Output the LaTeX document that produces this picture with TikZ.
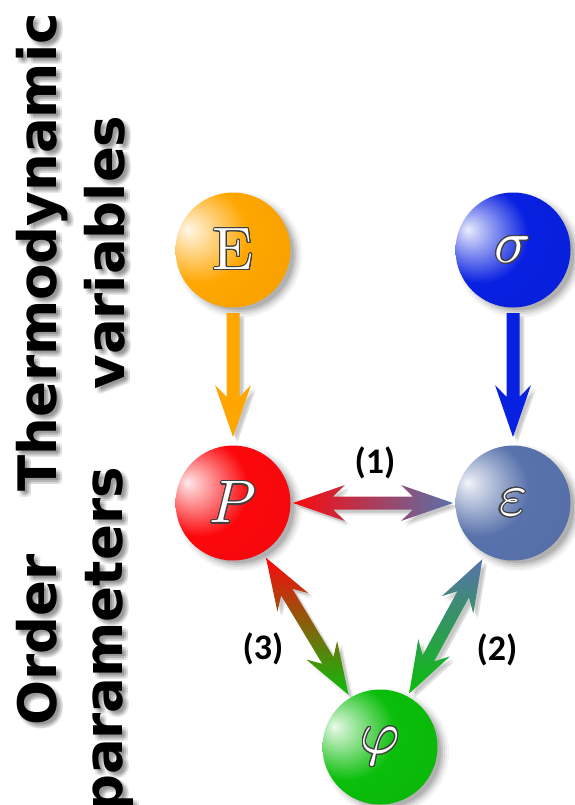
\documentclass[tikz,border=0pt]{standalone}
\usepackage{fontspec}
\usepackage{contour}
\usetikzlibrary{calc,backgrounds}
\newfontfamily\headfont{DejaVu Sans}
\newfontfamily\numfont{Carlito}
\contourlength{1.1pt}
\contournumber{24}

\definecolor{cOrange}{RGB}{255,166,0}
\definecolor{cBlue}{RGB}{8,32,225}
\definecolor{cRed}{RGB}{252,8,12}
\definecolor{cSteel}{RGB}{88,114,172}
\definecolor{cGreen}{RGB}{10,190,10}

\newcommand{\ballshade}[2]{\pgfdeclareradialshading{#1}{\pgfpoint{-20bp}{9bp}}{color(0bp)=(#2!8!white); color(3bp)=(#2!22!white); color(21bp)=(#2); color(48bp)=(#2!95!black); color(75bp)=(#2!88!black)}}
\ballshade{shE}{cOrange}
\ballshade{shS}{cBlue}
\ballshade{shP}{cRed}
\ballshade{shEps}{cSteel}
\ballshade{shPhi}{cGreen}

\newcommand{\aHB}{52pt}
\newcommand{\aHS}{40pt}
\newcommand{\aBW}{18pt}
\newcommand{\aSW}{6.5pt}

\newcommand{\dblArrow}[3]{\path[#1] (#2)
 -- ($(#2)!\aHB!(#3)!\aBW!90:(#3)$)
 -- ($(#2)!\aHS!(#3)!\aSW!90:(#3)$)
 -- ($(#3)!\aHS!(#2)!\aSW!-90:(#2)$)
 -- ($(#3)!\aHB!(#2)!\aBW!-90:(#2)$)
 -- (#3)
 -- ($(#3)!\aHB!(#2)!\aBW!90:(#2)$)
 -- ($(#3)!\aHS!(#2)!\aSW!90:(#2)$)
 -- ($(#2)!\aHS!(#3)!\aSW!-90:(#3)$)
 -- ($(#2)!\aHB!(#3)!\aBW!-90:(#3)$)
 -- cycle;}

\newcommand{\oneArrow}[3]{\path[#1]
 ($(#2)!\aSW!90:(#3)$)
 -- ($(#3)!\aHS!(#2)!\aSW!-90:(#2)$)
 -- ($(#3)!\aHB!(#2)!\aBW!-90:(#2)$)
 -- (#3)
 -- ($(#3)!\aHB!(#2)!\aBW!90:(#2)$)
 -- ($(#3)!\aHS!(#2)!\aSW!90:(#2)$)
 -- ($(#2)!\aSW!-90:(#3)$)
 -- cycle;}

\newcommand{\bigsym}[1]{\contour{black!75}{\scalebox{6}{$#1$}}}

\tikzset{
  ball/.style={circle, minimum size=115pt, inner sep=0pt, shade, text=white},
  head/.style={anchor=base, rotate=90, inner sep=0pt,
    font=\headfont\bfseries\fontsize{53pt}{53pt}\selectfont},
  headshadow/.style={head, text=black, text opacity=0.055},
  lab/.style={inner sep=0pt, font=\numfont\bfseries\fontsize{36pt}{36pt}\selectfont},
}

\begin{document}
\begin{tikzpicture}[x=1pt,y=-1pt]
\useasboundingbox (0,0) rectangle (575,805);

% balls
\node[ball, shading=shE] (E) at (233,250) {\bigsym{\mathrm{E}}};
\node[ball, shading=shS] (S) at (513,250) {\bigsym{\sigma}};
\node[ball, shading=shP] (P) at (233,503) {\bigsym{P}};
\node[ball, shading=shEps] (eps) at (513,503) {\bigsym{\varepsilon}};
\node[ball, shading=shPhi] (phi) at (380,747) {\bigsym{\varphi}};

% arrow end points
\coordinate (eS) at ($(E)!63pt!(P)$);
\coordinate (eE) at ($(P)!66pt!(E)$);
\coordinate (sS) at ($(S)!63pt!(eps)$);
\coordinate (sE) at ($(eps)!66pt!(S)$);
\coordinate (oS) at ($(P)!60pt!(eps)$);
\coordinate (oE) at ($(eps)!60pt!(P)$);
\coordinate (tS) at ($(P)!64pt!(phi)$);
\coordinate (tE) at ($(phi)!61pt!(P)$);
\coordinate (wS) at ($(eps)!64pt!(phi)$);
\coordinate (wE) at ($(phi)!61pt!(eps)$);

% arrows
\oneArrow{fill=cOrange}{eS}{eE}
\oneArrow{fill=cBlue}{sS}{sE}
\dblArrow{left color=cRed, right color=cSteel}{oS}{oE}
\dblArrow{top color=cRed, bottom color=cGreen}{tS}{tE}
\dblArrow{top color=cSteel, bottom color=cGreen}{wS}{wE}

% labels
\node[lab] (l1) at (375,463) {(1)};
\node[lab] (l2) at (497,650) {(2)};
\node[lab] (l3) at (263,649) {(3)};

% headings
\node[head] (th) at (56,252.5) {Thermodynamic};
\node[head] (va) at (124,252.5) {variables};
\node[head] (or) at (56,640) {Order};
\node[head] (pa) at (122,640) {parameters};

\begin{pgfonlayer}{background}
  % ball shadows
  \foreach \n in {E,S,P,eps,phi}{
    \foreach \r/\o in {63/0.04,61/0.05,59/0.07,57/0.09,55/0.10}{
      \fill[black, opacity=\o] ($(\n)+(6,5)$) circle (\r pt);
    }
  }
  % arrow shadows
  \foreach \dx/\dy/\o in {3/3/0.10,5/4/0.08,4/6/0.06}{
    \begin{scope}[transform canvas={shift={(\dx,\dy)}}]
      \oneArrow{fill=black, opacity=\o}{eS}{eE}
      \oneArrow{fill=black, opacity=\o}{sS}{sE}
      \dblArrow{fill=black, opacity=\o}{oS}{oE}
      \dblArrow{fill=black, opacity=\o}{tS}{tE}
      \dblArrow{fill=black, opacity=\o}{wS}{wE}
    \end{scope}
  }
  % heading shadows
  \foreach \dx in {2,4,6}{
    \foreach \dy in {2,4,6}{
      \node[headshadow] (thsh\dx\dy) at ($(th.base)+(\dx,\dy)$) {Thermodynamic};
      \node[headshadow] (vash\dx\dy) at ($(va.base)+(\dx,\dy)$) {variables};
      \node[headshadow] (orsh\dx\dy) at ($(or.base)+(\dx,\dy)$) {Order};
      \node[headshadow] (pash\dx\dy) at ($(pa.base)+(\dx,\dy)$) {parameters};
    }
  }
\end{pgfonlayer}
\end{tikzpicture}
\end{document}
